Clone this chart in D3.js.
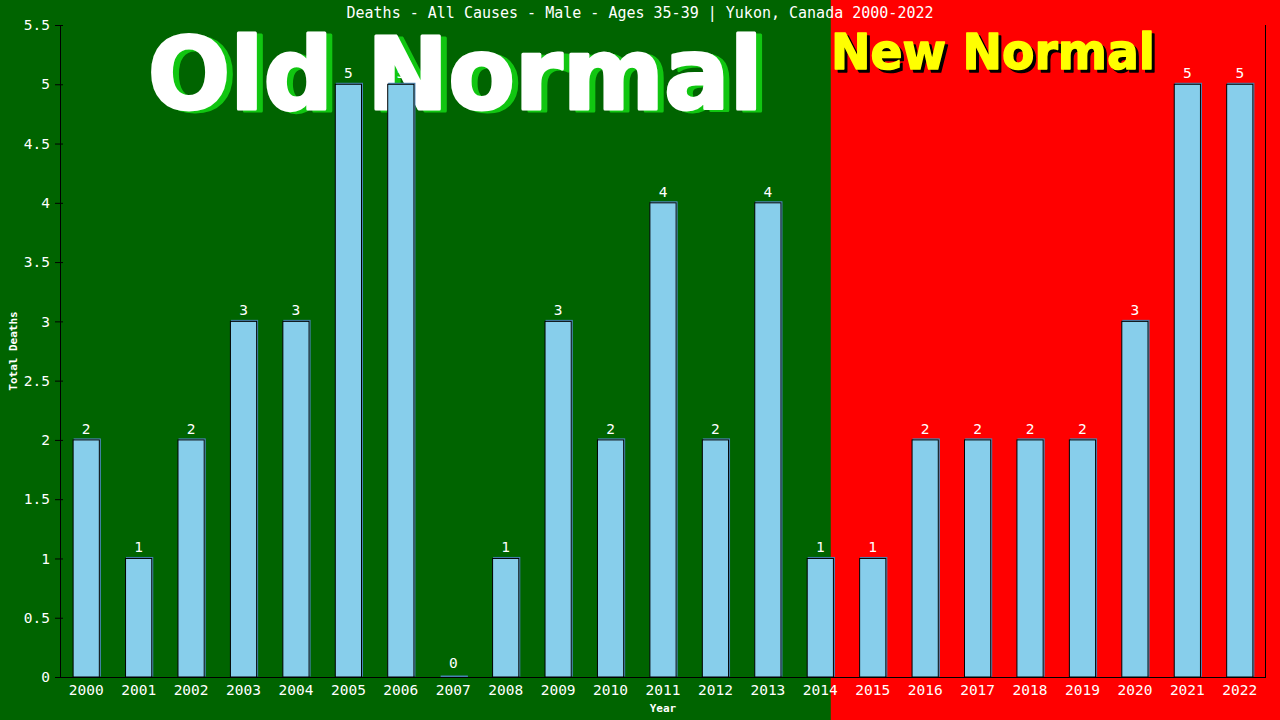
<!DOCTYPE html>
<html>
<head>
<meta charset="utf-8">
<script src="https://cdn.jsdelivr.net/npm/d3@7"></script>
<style>
  html, body { margin: 0; padding: 0; background: #006400; }
  svg { display: block; }
</style>
</head>
<body>
<div id="chart"></div>
<script>
// data
var years = ["2000","2001","2002","2003","2004","2005","2006","2007","2008","2009","2010","2011",
  "2012","2013","2014","2015","2016","2017","2018","2019","2020","2021","2022"];
var deaths = [2,1,2,3,3,5,5,0,1,3,2,4,2,4,1,1,2,2,2,2,3,5,5];
var yTicks = [0,0.5,1,1.5,2,2.5,3,3.5,4,4.5,5,5.5];
var title = "Deaths - All Causes - Male - Ages 35-39 | Yukon, Canada 2000-2022";

var W = 1280, H = 720;
var margin = {top: 25, right: 14, bottom: 43, left: 60},
  innerWidth = W - margin.left - margin.right,
  innerHeight = H - margin.top - margin.bottom;

var mono = "'DejaVu Sans Mono', monospace";
var sans = "'DejaVu Sans', sans-serif";

var svg = d3.select("#chart").append("svg")
    .attr("width", W)
    .attr("height", H);

var xScale = d3.scaleBand()
    .domain(years)
    .range([0, innerWidth])
    .paddingInner(0.5)
    .paddingOuter(0.25);

var yScale = d3.scaleLinear()
    .domain([0, 5.5])
    .range([innerHeight, 0]);

// old normal / new normal backgrounds
var split = margin.left + xScale("2014") + xScale.bandwidth() * 0.9;
svg.append("rect").attr("x", 0).attr("y", 0).attr("width", split).attr("height", H).attr("fill", "#006400");
svg.append("rect").attr("x", split).attr("y", 0).attr("width", W - split).attr("height", H).attr("fill", "#ff0000");

// big labels (shadow first, then the face)
function bigLabel(x, y, size, len, fill, text, strokeW) {
  svg.append("text")
      .attr("x", x).attr("y", y)
      .attr("text-anchor", "middle")
      .attr("font-family", sans)
      .attr("font-weight", "bold")
      .attr("font-size", size)
      .attr("textLength", len).attr("lengthAdjust", "spacingAndGlyphs")
      .attr("fill", fill)
      .attr("stroke", fill).attr("stroke-width", strokeW)
      .attr("stroke-linejoin", "round")
      .text(text);
}
var oldCx = margin.left + xScale("2007") + xScale.bandwidth() / 2;
bigLabel(oldCx + 8, 111, 100, 615, "#11c611", "Old Normal", 3);
bigLabel(oldCx + 2, 109, 100, 615, "#ffffff", "Old Normal", 3);

var newCx = 993;
bigLabel(newCx + 3, 72, 50, 324, "#000000", "New Normal", 1.5);
bigLabel(newCx, 69, 50, 324, "#ffff00", "New Normal", 1.5);

// title
svg.append("text")
    .attr("x", W / 2).attr("y", 18)
    .attr("text-anchor", "middle")
    .attr("font-family", mono)
    .attr("font-size", 15)
    .attr("fill", "#fff")
    .text(title);

var chart = svg.append("g")
    .attr("transform", "translate(" + margin.left + "," + margin.top + ")");

// bars: steelblue shadow, then skyblue with black outline
chart.selectAll(".shadow")
    .data(deaths)
  .enter().append("rect")
    .attr("class", "shadow")
    .attr("x", function(d, i) { return xScale(years[i]) + 1; })
    .attr("y", function(d) { return yScale(d) - 1; })
    .attr("width", xScale.bandwidth())
    .attr("height", function(d) { return Math.max(innerHeight - yScale(d), 0.5); })
    .attr("fill", "#87ceeb")
    .attr("stroke", "#4682b4")
    .attr("stroke-width", 1);

chart.selectAll(".bar")
    .data(deaths)
  .enter().append("rect")
    .attr("class", "bar")
    .attr("x", function(d, i) { return xScale(years[i]); })
    .attr("y", function(d) { return yScale(d); })
    .attr("width", xScale.bandwidth())
    .attr("height", function(d) { return innerHeight - yScale(d); })
    .attr("fill", "#87ceeb")
    .attr("stroke", function(d) { return d > 0 ? "#000" : "none"; })
    .attr("stroke-width", 1);

// value labels
chart.selectAll(".val")
    .data(deaths)
  .enter().append("text")
    .attr("class", "val")
    .attr("x", function(d, i) { return xScale(years[i]) + xScale.bandwidth() / 2; })
    .attr("y", function(d) { return yScale(d) - (d > 0 ? 6 : 9); })
    .attr("text-anchor", "middle")
    .attr("font-family", mono)
    .attr("font-size", 14.5)
    .attr("fill", "#fff")
    .text(function(d) { return d; });

// axes
var yAxis = chart.append("g")
    .call(d3.axisLeft(yScale).tickValues(yTicks).tickSizeOuter(0).tickSize(5)
      .tickFormat(function(d) { return d; }));
yAxis.select(".domain").attr("stroke", "#000");
yAxis.selectAll(".tick line").attr("stroke", "#000").attr("x1", 3);
yAxis.selectAll(".tick text")
    .attr("font-family", mono).attr("font-size", 14.5).attr("fill", "#fff").attr("x", -10);

var xAxis = chart.append("g")
    .attr("transform", "translate(0," + innerHeight + ")")
    .call(d3.axisBottom(xScale).tickSize(0).tickSizeOuter(0));
xAxis.select(".domain").remove();
xAxis.selectAll(".tick text")
    .attr("font-family", mono).attr("font-size", 14.5).attr("fill", "#fff").attr("dy", "1.05em");

// bottom line and right edge
chart.append("line")
    .attr("x1", -5).attr("x2", innerWidth).attr("y1", innerHeight + 0.5).attr("y2", innerHeight + 0.5)
    .attr("stroke", "#000");
chart.append("line")
    .attr("x1", innerWidth - 0.5).attr("x2", innerWidth - 0.5).attr("y1", 0).attr("y2", innerHeight)
    .attr("stroke", "#000");

// axis titles
svg.append("text")
    .attr("x", margin.left + innerWidth / 2).attr("y", 712)
    .attr("text-anchor", "middle")
    .attr("font-family", mono).attr("font-weight", "bold").attr("font-size", 11)
    .attr("fill", "#fff")
    .text("Year");
svg.append("text")
    .attr("transform", "translate(17," + (margin.top + innerHeight / 2) + ") rotate(-90)")
    .attr("text-anchor", "middle")
    .attr("font-family", mono).attr("font-weight", "bold").attr("font-size", 11)
    .attr("fill", "#fff")
    .text("Total Deaths");
</script>
</body>
</html>
